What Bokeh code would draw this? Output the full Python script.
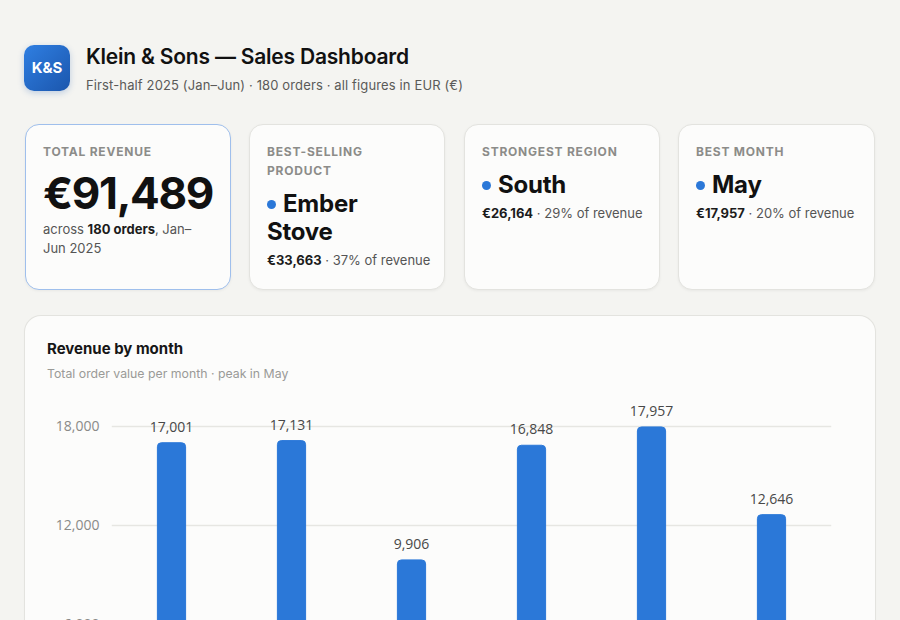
from bokeh.plotting import figure
from bokeh.layouts import column
from bokeh.models import Div, FixedTicker, NumeralTickFormatter, Range1d, ColumnDataSource
from bokeh.core.properties import value
from bokeh.embed import file_html
from bokeh.resources import INLINE

# ---- data -------------------------------------------------------------
months = ["Jan", "Feb", "Mar", "Apr", "May", "Jun"]
revenue = [17001, 17131, 9906, 16848, 17957, 12646]
y_ticks = [0, 6000, 12000, 18000]

total_revenue = 91489
order_count = 180
top_product = "Ember Stove"
top_product_revenue = 33663
top_product_share = 37
top_region = "South"
top_region_revenue = 26164
top_region_share = 29
best_month = "May"
best_month_revenue = 17957
best_month_share = 20

# ---- styling ----------------------------------------------------------
FONT = "Inter, 'Noto Sans', sans-serif"
CHART_FONT = "Open Sans"
PAGE_BG = "#f4f4f1"
CARD_BG = "#fcfcfb"
CARD_BORDER = "#e3e3df"
BLUE = "#2b78d8"


def kpi_card(left, width, inner, border=CARD_BORDER):
    return (
        f'<div style="position:absolute;left:{left}px;top:124px;width:{width}px;height:166px;'
        f'box-sizing:border-box;padding:17px 17px;background:{CARD_BG};border:1px solid {border};'
        f'border-radius:14px;box-shadow:0 1px 3px rgba(0,0,0,0.05);">{inner}</div>'
    )


def kpi_label(text):
    return (
        '<div style="font-size:12px;line-height:19px;font-weight:700;letter-spacing:0.065em;'
        f'color:#8c8c89;text-transform:uppercase;">{text}</div>'
    )


def kpi_value(text):
    dot_html = (
        f'<span style="display:inline-block;width:9px;height:9px;border-radius:50%;'
        f'background:{BLUE};vertical-align:middle;margin-right:7px;"></span>'
    )
    return (
        '<div style="margin-top:9.5px;font-size:24px;line-height:28px;font-weight:700;'
        f'color:#111;letter-spacing:-0.01em;">{dot_html}{text}</div>'
    )


def kpi_sub(amount, share):
    return (
        '<div style="margin-top:5.5px;font-size:13px;line-height:19px;color:#555;white-space:nowrap;">'
        f'<b style="color:#1c1c1c;font-weight:700;">€{amount:,}</b> · {share}% of revenue</div>'
    )


card_total = kpi_card(
    25, 206,
    kpi_label("Total revenue")
    + '<div style="margin-top:10px;font-size:44px;line-height:44px;font-weight:700;'
      f'color:#111;letter-spacing:-0.03em;">€{total_revenue:,}</div>'
    + '<div style="margin-top:4.5px;font-size:13px;line-height:19px;color:#555;white-space:nowrap;">'
      f'across <b style="color:#1c1c1c;font-weight:700;">{order_count} orders</b>, Jan–<br>Jun 2025</div>',
    border="#9fbfec",
)
card_product = kpi_card(
    249, 196,
    kpi_label("Best-selling<br>product")
    + kpi_value(top_product.replace(" ", "<br>"))
    + kpi_sub(top_product_revenue, top_product_share),
)
card_region = kpi_card(
    464, 196,
    kpi_label("Strongest region")
    + kpi_value(top_region)
    + kpi_sub(top_region_revenue, top_region_share),
)
card_month = kpi_card(
    678, 197,
    kpi_label("Best month")
    + kpi_value(best_month)
    + kpi_sub(best_month_revenue, best_month_share),
)

header_html = f"""
<div style="position:relative;width:900px;height:316px;background:{PAGE_BG};font-family:{FONT};">
  <div style="position:absolute;left:24px;top:45px;width:46px;height:46px;border-radius:10px;
       background:linear-gradient(135deg,#2f7fe2,#1b56ad);box-shadow:0 2px 6px rgba(30,90,180,0.25);
       color:#fff;font-weight:700;font-size:15px;display:flex;align-items:center;justify-content:center;">K&amp;S</div>
  <div style="position:absolute;left:86px;top:44px;font-size:21px;line-height:26px;font-weight:600;color:#111;
       letter-spacing:-0.01em;">Klein &amp; Sons — Sales Dashboard</div>
  <div style="position:absolute;left:86px;top:75px;font-size:13px;line-height:20px;color:#5a5a58;
       letter-spacing:0.01em;">First-half 2025 (Jan–Jun) · {order_count} orders · all figures in EUR (€)</div>
  {card_total}{card_product}{card_region}{card_month}
</div>
"""

header = Div(text=header_html, width=900, height=316, margin=0)

# ---- revenue by month chart card ----------------------------------------
chart_heading = Div(
    text=f"""
<div style="position:relative;width:850px;height:80px;font-family:{FONT};">
  <div style="position:absolute;left:22px;top:23px;font-size:15px;line-height:20px;font-weight:700;
       color:#161616;">Revenue by month</div>
  <div style="position:absolute;left:22px;top:50px;font-size:12.3px;line-height:16px;color:#9a9a97;">
       Total order value per month · peak in {best_month}</div>
</div>
""",
    width=850, height=80, margin=0,
)

source = ColumnDataSource(dict(
    month=months,
    revenue=revenue,
    label=[f"{v:,}" for v in revenue],
))

p = figure(
    x_range=months,
    y_range=Range1d(0, 19800),
    width=850, height=390,
    min_border_left=86, min_border_right=44, min_border_top=0, min_border_bottom=63,
    background_fill_color=CARD_BG, border_fill_color=CARD_BG, outline_line_color=None,
    output_backend="svg", toolbar_location=None, margin=0,
)

p.vbar(x="month", top="revenue", width=0.235, source=source,
       fill_color=BLUE, line_color=BLUE, border_radius=(4, 4, 0, 0))

p.text(x="month", y="revenue", text="label", source=source,
       text_align="center", text_baseline="alphabetic", y_offset=-16,
       text_font=value(CHART_FONT), text_font_size="14px", text_color="#484848")

p.yaxis.ticker = FixedTicker(ticks=y_ticks)
p.yaxis.formatter = NumeralTickFormatter(format="0,0")
for ax in (p.xaxis[0], p.yaxis[0]):
    ax.axis_line_color = None
    ax.major_tick_line_color = None
    ax.minor_tick_line_color = None
    ax.major_tick_out = 0
    ax.major_tick_in = 0
    ax.major_label_text_font = CHART_FONT
    ax.major_label_text_font_size = "14px"
    ax.major_label_text_color = "#8a8a88"
    ax.major_label_standoff = 12

p.xgrid.grid_line_color = None
p.ygrid.grid_line_color = "#e6e6e2"
p.ygrid.grid_line_width = 1.5

chart_card = column(
    chart_heading, p,
    margin=(0, 0, 0, 25),
    styles={
        "background-color": CARD_BG,
        "border-radius": "16px",
        "overflow": "hidden",
        "box-shadow": f"0 0 0 1px {CARD_BORDER}, 0 1px 3px rgba(0,0,0,0.05)",
    },
)

page = column(header, chart_card, margin=0, styles={"background-color": PAGE_BG})

with open("out.html", "w") as f:
    f.write(file_html(page, INLINE))
